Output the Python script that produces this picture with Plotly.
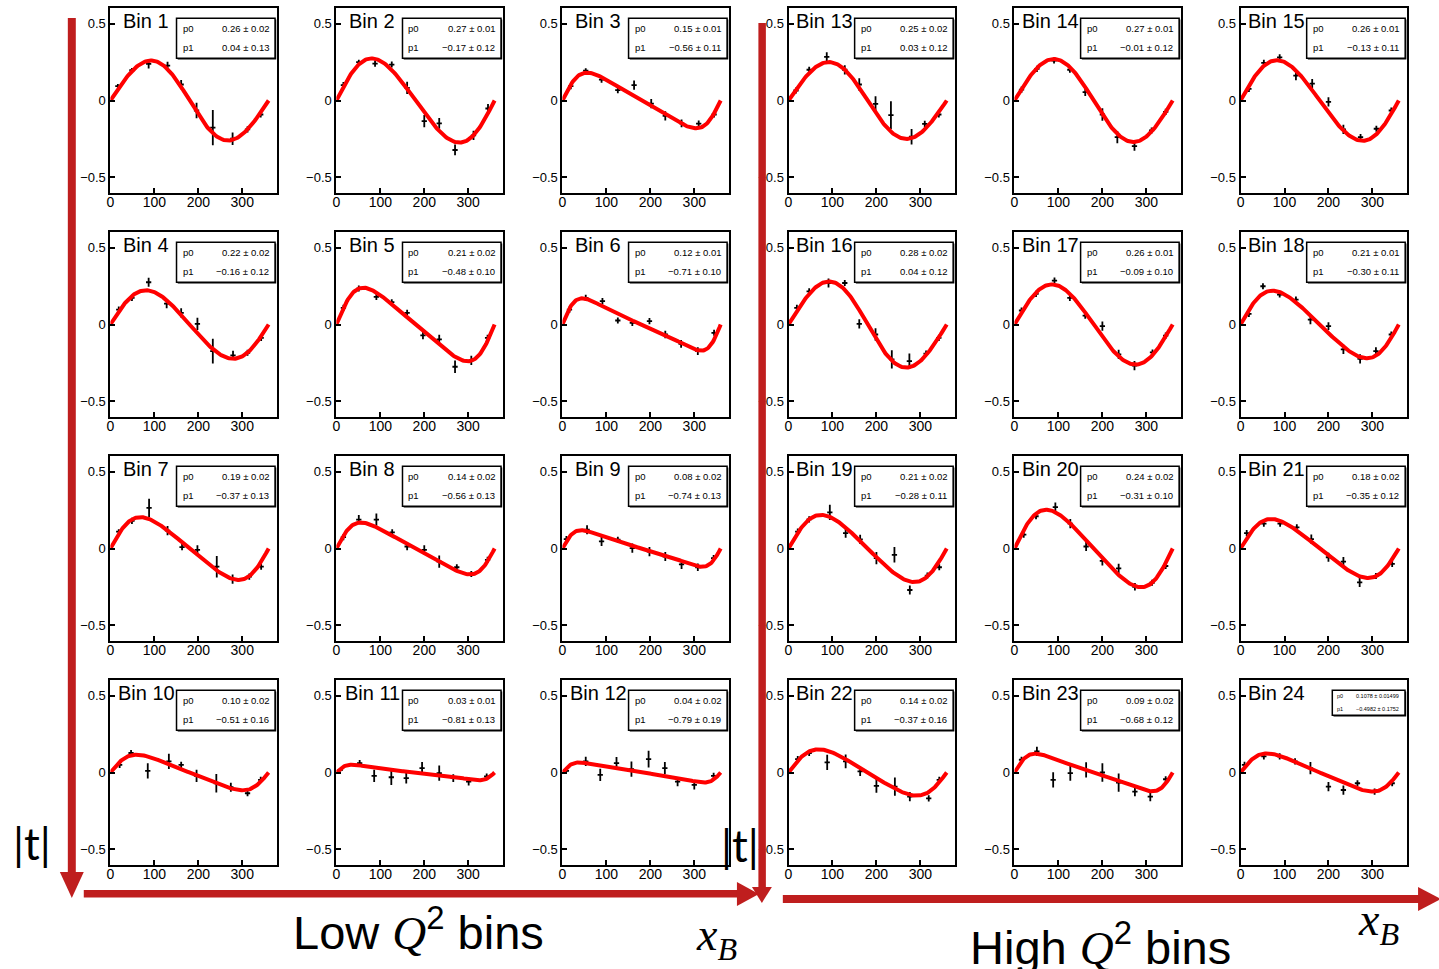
import numpy as np
import plotly.graph_objects as go

W, H = 1439, 969

# ---------------- data ----------------
bins = list(range(1, 25))
p0 = [0.26, 0.27, 0.15, 0.22, 0.21, 0.12, 0.19, 0.14, 0.08, 0.10, 0.03, 0.04,
      0.25, 0.27, 0.26, 0.28, 0.26, 0.21, 0.21, 0.24, 0.18, 0.14, 0.09, 0.1078]
p0_err = [0.02, 0.01, 0.01, 0.02, 0.02, 0.01, 0.02, 0.02, 0.02, 0.02, 0.01, 0.02,
          0.02, 0.01, 0.01, 0.02, 0.01, 0.01, 0.02, 0.02, 0.02, 0.02, 0.02, 0.01499]
p1 = [0.04, -0.17, -0.56, -0.16, -0.48, -0.71, -0.37, -0.56, -0.74, -0.51, -0.81, -0.79,
      0.03, -0.01, -0.13, 0.04, -0.09, -0.30, -0.28, -0.31, -0.35, -0.37, -0.68, -0.4982]
p1_err = [0.13, 0.12, 0.11, 0.12, 0.10, 0.10, 0.13, 0.13, 0.13, 0.16, 0.13, 0.19,
          0.12, 0.12, 0.11, 0.12, 0.10, 0.11, 0.11, 0.10, 0.12, 0.16, 0.12, 0.1752]
p0_text = ["0.26 ± 0.02", "0.27 ± 0.01", "0.15 ± 0.01", "0.22 ± 0.02", "0.21 ± 0.02", "0.12 ± 0.01",
           "0.19 ± 0.02", "0.14 ± 0.02", "0.08 ± 0.02", "0.10 ± 0.02", "0.03 ± 0.01", "0.04 ± 0.02",
           "0.25 ± 0.02", "0.27 ± 0.01", "0.26 ± 0.01", "0.28 ± 0.02", "0.26 ± 0.01", "0.21 ± 0.01",
           "0.21 ± 0.02", "0.24 ± 0.02", "0.18 ± 0.02", "0.14 ± 0.02", "0.09 ± 0.02", "0.1078 ± 0.01499"]
p1_text = ["0.04 ± 0.13", "−0.17 ± 0.12", "−0.56 ± 0.11", "−0.16 ± 0.12", "−0.48 ± 0.10", "−0.71 ± 0.10",
           "−0.37 ± 0.13", "−0.56 ± 0.13", "−0.74 ± 0.13", "−0.51 ± 0.16", "−0.81 ± 0.13", "−0.79 ± 0.19",
           "0.03 ± 0.12", "−0.01 ± 0.12", "−0.13 ± 0.11", "0.04 ± 0.12", "−0.09 ± 0.10", "−0.30 ± 0.11",
           "−0.28 ± 0.11", "−0.31 ± 0.10", "−0.35 ± 0.12", "−0.37 ± 0.16", "−0.68 ± 0.12", "−0.4982 ± 0.1752"]

bin01_phi = [17, 49, 87, 130, 161, 196, 233, 278, 312, 342]
bin01_asym = [0.093, 0.197, 0.238, 0.227, 0.104, -0.065, -0.177, -0.249, -0.188, -0.091]
bin01_err = [0.015, 0.015, 0.03, 0.025, 0.03, 0.05, 0.115, 0.04, 0.02, 0.02]
bin02_phi = [16, 51, 88, 126, 161, 200, 234, 270, 312, 345]
bin02_asym = [0.10, 0.25, 0.24, 0.234, 0.082, -0.134, -0.149, -0.322, -0.227, -0.052]
bin02_err = [0.02, 0.015, 0.02, 0.02, 0.04, 0.04, 0.035, 0.035, 0.03, 0.03]
bin03_phi = [19, 53, 89, 126, 163, 202, 234, 271, 310, 345]
bin03_asym = [0.093, 0.195, 0.136, 0.067, 0.10, -0.02, -0.10, -0.149, -0.15, -0.091]
bin03_err = [0.02, 0.015, 0.02, 0.02, 0.03, 0.03, 0.03, 0.025, 0.02, 0.02]
bin04_phi = [19, 49, 87, 128, 161, 198, 233, 279, 312, 343]
bin04_asym = [0.097, 0.173, 0.275, 0.136, 0.076, 0.004, -0.173, -0.201, -0.184, -0.087]
bin04_err = [0.02, 0.02, 0.03, 0.03, 0.03, 0.04, 0.08, 0.03, 0.02, 0.02]
bin05_phi = [16, 51, 91, 126, 161, 197, 234, 270, 307, 344]
bin05_asym = [0.108, 0.234, 0.18, 0.145, 0.076, -0.071, -0.097, -0.275, -0.234, -0.087]
bin05_err = [0.02, 0.02, 0.02, 0.02, 0.02, 0.025, 0.03, 0.04, 0.03, 0.02]
bin06_phi = [16, 53, 91, 126, 159, 198, 234, 270, 308, 345]
bin06_asym = [0.097, 0.173, 0.152, 0.026, 0.011, 0.022, -0.065, -0.126, -0.173, -0.054]
bin06_err = [0.02, 0.02, 0.02, 0.02, 0.02, 0.02, 0.025, 0.025, 0.025, 0.02]
bin07_phi = [19, 49, 88, 130, 163, 198, 242, 278, 316, 343]
bin07_asym = [0.11, 0.18, 0.264, 0.116, 0.009, -0.009, -0.118, -0.199, -0.183, -0.118]
bin07_err = [0.015, 0.02, 0.06, 0.03, 0.02, 0.03, 0.07, 0.03, 0.02, 0.02]
bin08_phi = [16, 51, 91, 127, 161, 200, 234, 274, 307, 344]
bin08_asym = [0.074, 0.188, 0.188, 0.105, 0.013, -0.009, -0.085, -0.122, -0.166, -0.074]
bin08_err = [0.02, 0.03, 0.04, 0.02, 0.025, 0.03, 0.04, 0.02, 0.02, 0.02]
bin09_phi = [9, 56, 89, 126, 159, 198, 234, 271, 308, 344]
bin09_asym = [0.061, 0.122, 0.046, 0.057, 0.002, -0.02, -0.052, -0.103, -0.122, -0.063]
bin09_err = [0.02, 0.03, 0.03, 0.02, 0.03, 0.03, 0.03, 0.03, 0.025, 0.02]
bin10_phi = [21, 47, 85, 133, 161, 196, 241, 274, 312, 342]
bin10_asym = [0.05, 0.127, 0.011, 0.072, 0.05, -0.022, -0.07, -0.096, -0.135, -0.048]
bin10_err = [0.02, 0.02, 0.05, 0.05, 0.02, 0.04, 0.06, 0.03, 0.02, 0.02]
bin11_phi = [9, 53, 86, 125, 159, 195, 234, 266, 301, 342]
bin11_asym = [0.017, 0.061, -0.022, -0.031, -0.037, 0.028, -0.004, -0.037, -0.059, -0.026]
bin11_err = [0.01, 0.02, 0.04, 0.05, 0.035, 0.04, 0.05, 0.025, 0.025, 0.02]
bin12_phi = [9, 53, 86, 123, 157, 196, 233, 262, 300, 344]
bin12_asym = [0.011, 0.072, -0.015, 0.061, 0.022, 0.087, 0.028, -0.059, -0.081, -0.022]
bin12_err = [0.01, 0.03, 0.04, 0.04, 0.05, 0.055, 0.04, 0.03, 0.03, 0.02]
bin13_phi = [17, 47, 87, 128, 161, 198, 233, 280, 310, 342]
bin13_asym = [0.065, 0.20, 0.284, 0.20, 0.104, -0.022, -0.095, -0.236, -0.152, -0.091]
bin13_err = [0.02, 0.02, 0.03, 0.03, 0.04, 0.05, 0.09, 0.05, 0.02, 0.02]
bin14_phi = [16, 51, 90, 126, 161, 200, 234, 273, 312, 344]
bin14_asym = [0.071, 0.206, 0.26, 0.20, 0.054, -0.091, -0.238, -0.297, -0.195, -0.074]
bin14_err = [0.02, 0.02, 0.02, 0.02, 0.025, 0.04, 0.04, 0.03, 0.02, 0.02]
bin15_phi = [19, 53, 89, 126, 163, 200, 234, 273, 309, 343]
bin15_asym = [0.076, 0.245, 0.281, 0.162, 0.11, -0.009, -0.188, -0.238, -0.184, -0.065]
bin15_err = [0.02, 0.02, 0.02, 0.03, 0.03, 0.03, 0.03, 0.02, 0.02, 0.02]
bin16_phi = [19, 47, 91, 128, 161, 198, 235, 275, 313, 342]
bin16_asym = [0.108, 0.216, 0.27, 0.27, 0.004, -0.065, -0.227, -0.238, -0.19, -0.087]
bin16_err = [0.02, 0.02, 0.03, 0.02, 0.03, 0.04, 0.06, 0.05, 0.02, 0.02]
bin17_phi = [16, 49, 91, 126, 161, 200, 237, 273, 314, 344]
bin17_asym = [0.091, 0.199, 0.286, 0.173, 0.058, -0.011, -0.195, -0.268, -0.182, -0.072]
bin17_err = [0.02, 0.02, 0.02, 0.02, 0.02, 0.03, 0.03, 0.03, 0.02, 0.02]
bin18_phi = [19, 51, 89, 126, 159, 200, 234, 272, 308, 343]
bin18_asym = [0.069, 0.249, 0.195, 0.162, 0.032, -0.011, -0.162, -0.223, -0.173, -0.065]
bin18_err = [0.02, 0.02, 0.02, 0.02, 0.03, 0.025, 0.03, 0.03, 0.025, 0.02]
bin19_phi = [21, 47, 94, 130, 163, 200, 241, 276, 316, 343]
bin19_asym = [0.11, 0.19, 0.235, 0.10, 0.06, -0.063, -0.041, -0.27, -0.176, -0.122]
bin19_err = [0.02, 0.02, 0.05, 0.03, 0.03, 0.04, 0.05, 0.03, 0.02, 0.02]
bin20_phi = [21, 49, 93, 127, 163, 200, 237, 274, 313, 344]
bin20_asym = [0.09, 0.21, 0.269, 0.162, 0.013, -0.081, -0.129, -0.249, -0.223, -0.114]
bin20_err = [0.02, 0.02, 0.03, 0.03, 0.03, 0.03, 0.03, 0.025, 0.02, 0.02]
bin21_phi = [14, 53, 90, 128, 161, 200, 234, 271, 308, 345]
bin21_asym = [0.10, 0.162, 0.162, 0.138, 0.061, -0.057, -0.085, -0.221, -0.179, -0.10]
bin21_err = [0.02, 0.02, 0.02, 0.02, 0.03, 0.03, 0.03, 0.03, 0.02, 0.02]
bin22_phi = [21, 47, 88, 130, 163, 200, 242, 276, 319, 343]
bin22_asym = [0.087, 0.127, 0.066, 0.072, 0.007, -0.087, -0.092, -0.157, -0.168, -0.048]
bin22_err = [0.02, 0.02, 0.05, 0.045, 0.03, 0.045, 0.06, 0.03, 0.02, 0.02]
bin23_phi = [16, 51, 88, 127, 163, 200, 237, 274, 309, 344]
bin23_asym = [0.083, 0.138, -0.048, -0.004, 0.017, 0.0, -0.066, -0.124, -0.157, -0.044]
bin23_err = [0.02, 0.03, 0.05, 0.05, 0.05, 0.06, 0.06, 0.03, 0.03, 0.02]
bin24_phi = [9, 53, 89, 124, 159, 200, 234, 266, 305, 345]
bin24_asym = [0.05, 0.105, 0.105, 0.072, 0.028, -0.092, -0.114, -0.07, -0.124, -0.07]
bin24_err = [0.02, 0.02, 0.02, 0.02, 0.04, 0.03, 0.03, 0.02, 0.02, 0.02]

all_phi = [bin01_phi, bin02_phi, bin03_phi, bin04_phi, bin05_phi, bin06_phi, bin07_phi, bin08_phi,
           bin09_phi, bin10_phi, bin11_phi, bin12_phi, bin13_phi, bin14_phi, bin15_phi, bin16_phi,
           bin17_phi, bin18_phi, bin19_phi, bin20_phi, bin21_phi, bin22_phi, bin23_phi, bin24_phi]
all_asym = [bin01_asym, bin02_asym, bin03_asym, bin04_asym, bin05_asym, bin06_asym, bin07_asym, bin08_asym,
            bin09_asym, bin10_asym, bin11_asym, bin12_asym, bin13_asym, bin14_asym, bin15_asym, bin16_asym,
            bin17_asym, bin18_asym, bin19_asym, bin20_asym, bin21_asym, bin22_asym, bin23_asym, bin24_asym]
all_err = [bin01_err, bin02_err, bin03_err, bin04_err, bin05_err, bin06_err, bin07_err, bin08_err,
           bin09_err, bin10_err, bin11_err, bin12_err, bin13_err, bin14_err, bin15_err, bin16_err,
           bin17_err, bin18_err, bin19_err, bin20_err, bin21_err, bin22_err, bin23_err, bin24_err]

x_ticks = [0, 100, 200, 300]
y_ticks = [-0.5, 0, 0.5]
y_ticktext = ["−0.5", "0", "0.5"]

# ---------------- layout geometry (pixels) ----------------
col_left = [106.7, 333.3, 560.0, 786.7, 1013.3, 1240.0]
row_top = [8.3, 232.3, 456.3, 680.3]
pw, ph = 166.6, 184.4
RED = "#BF1E1E"
FONT = "Liberation Sans"


def px(x):
    return x / W


def py(y):
    return 1 - y / H


fig = go.Figure()
layout = {}
shapes = []
annotations = []

phi_grid = np.linspace(0, 360, 181)

for i, b in enumerate(bins):
    if b <= 12:
        r, c = (b - 1) // 3, (b - 1) % 3
    else:
        r, c = (b - 13) // 3, 3 + (b - 13) % 3
    L = col_left[c]
    R = L + pw
    T = row_top[r]
    B = T + ph
    n = i + 1
    xs = "x" if n == 1 else f"x{n}"
    ys = "y" if n == 1 else f"y{n}"
    xk = "xaxis" if n == 1 else f"xaxis{n}"
    yk = "yaxis" if n == 1 else f"yaxis{n}"

    fig.add_trace(go.Scatter(
        x=all_phi[i], y=all_asym[i], mode="markers",
        marker=dict(size=1, color="black"),
        error_x=dict(type="constant", value=6, width=0, thickness=1.8, color="black"),
        error_y=dict(type="data", array=all_err[i], width=0, thickness=1.8, color="black"),
        xaxis=xs, yaxis=ys, showlegend=False, hoverinfo="skip"))
    rad = np.deg2rad(phi_grid)
    fit = p0[i] * np.sin(rad) / (1 + p1[i] * np.cos(rad))
    fig.add_trace(go.Scatter(
        x=phi_grid, y=fit, mode="lines", line=dict(color="red", width=4),
        xaxis=xs, yaxis=ys, showlegend=False, hoverinfo="skip"))

    layout[xk] = dict(domain=[px(L), px(R)], range=[0, 378], anchor=ys,
                      tickvals=x_ticks, ticks="inside", ticklen=5, tickwidth=1.5,
                      tickcolor="black", showline=True, mirror=True, linecolor="black",
                      linewidth=2, showgrid=False, zeroline=False, ticklabelstandoff=-5,
                      tickfont=dict(size=14, family=FONT, color="black"))
    layout[yk] = dict(domain=[py(B), py(T)], range=[-0.6, 0.6], anchor=xs,
                      tickvals=y_ticks, ticktext=y_ticktext, ticks="inside", ticklen=5,
                      tickwidth=1.5, tickcolor="black", showline=True, mirror=True,
                      linecolor="black", linewidth=2, showgrid=False, zeroline=False,
                      tickfont=dict(size=13, family=FONT, color="black"))

    # Bin label
    annotations.append(dict(x=px(L + 36), y=py(T + 13), xref="paper", yref="paper",
                            text=f"Bin {b}", showarrow=False, xanchor="center", yanchor="middle",
                            font=dict(size=20, family=FONT, color="black")))
    # stat box
    if b == 24:
        bx0, by0, bx1, by1 = L + 92, T + 10, R - 1.7, T + 35
        fs = 5.5
        ry0, ry1 = T + 15.5, T + 29
        tx0 = bx0 + 3
    else:
        bx0, by0, bx1, by1 = L + 66.3, T + 10, R - 1.5, T + 50
        fs = 9.5
        ry0, ry1 = T + 20, T + 39
        tx0 = bx0 + 4
    shapes.append(dict(type="rect", xref="paper", yref="paper",
                       x0=px(bx0 + 1.2), x1=px(bx1 + 1.2), y0=py(by1 + 1.2), y1=py(by0 + 1.2),
                       fillcolor="black", line=dict(width=0), layer="above"))
    shapes.append(dict(type="rect", xref="paper", yref="paper",
                       x0=px(bx0), x1=px(bx1), y0=py(by1), y1=py(by0),
                       fillcolor="white", line=dict(color="black", width=1.5), layer="above"))
    for lab, val, yy in (("p0", p0_text[i], ry0), ("p1", p1_text[i], ry1)):
        annotations.append(dict(x=px(tx0), y=py(yy), xref="paper", yref="paper", text=lab,
                                showarrow=False, xanchor="left", yanchor="middle",
                                font=dict(size=fs, family=FONT, color="black")))
        annotations.append(dict(x=px(bx1 - 4), y=py(yy), xref="paper", yref="paper", text=val,
                                showarrow=False, xanchor="right", yanchor="middle",
                                font=dict(size=fs, family=FONT, color="black")))


def rect(x0, y0, x1, y1):
    return dict(type="rect", xref="paper", yref="paper", x0=px(x0), x1=px(x1),
                y0=py(y1), y1=py(y0), fillcolor=RED, line=dict(width=0), layer="above")


def tri(pts):
    path = "M " + " L ".join(f"{px(a):.5f},{py(b):.5f}" for a, b in pts) + " Z"
    return dict(type="path", xref="paper", yref="paper", path=path, fillcolor=RED,
                line=dict(width=0), layer="above")


# arrows
shapes.append(rect(64, 18, 72, 874))
shapes.append(tri([(56, 872), (80, 872), (68, 898)]))
shapes.append(rect(80, 890, 737, 897.5))
shapes.append(tri([(735, 882), (735, 906), (757, 894)]))
shapes.append(rect(756.5, 23, 764, 889))
shapes.append(tri([(750, 887), (770, 887), (760, 903)]))
shapes.append(rect(781, 895, 1420, 903))
shapes.append(tri([(1418, 887), (1418, 911), (1441, 899)]))

# big labels
serif_i = "font-family:'Liberation Serif';font-style:italic"
annotations += [
    dict(x=px(28), y=py(843), text="|t|", font=dict(size=44, family="Lato", color="black")),
    dict(x=px(738), y=py(845), text="|t|", font=dict(size=44, family="Lato", color="black")),
    dict(x=px(416), y=py(929), text=f"Low <span style=\"{serif_i}\">Q</span><sup>2</sup> bins",
         font=dict(size=47, family=FONT, color="black")),
    dict(x=px(1100), y=py(944), text=f"High <span style=\"{serif_i}\">Q</span><sup>2</sup> bins",
         font=dict(size=47, family=FONT, color="black")),
    dict(x=px(714), y=py(938), text=f"<span style=\"{serif_i}\">x<sub>B</sub></span>",
         font=dict(size=46, family="Liberation Serif", color="black")),
    dict(x=px(1378), y=py(923), text=f"<span style=\"{serif_i}\">x<sub>B</sub></span>",
         font=dict(size=46, family="Liberation Serif", color="black")),
]
for a in annotations[-6:]:
    a.update(xref="paper", yref="paper", showarrow=False, xanchor="center", yanchor="middle")

fig.update_layout(width=W, height=H, margin=dict(l=0, r=0, t=0, b=0),
                  paper_bgcolor="white", plot_bgcolor="white",
                  shapes=shapes, annotations=annotations, showlegend=False, **layout)
fig.write_html("out.html")
